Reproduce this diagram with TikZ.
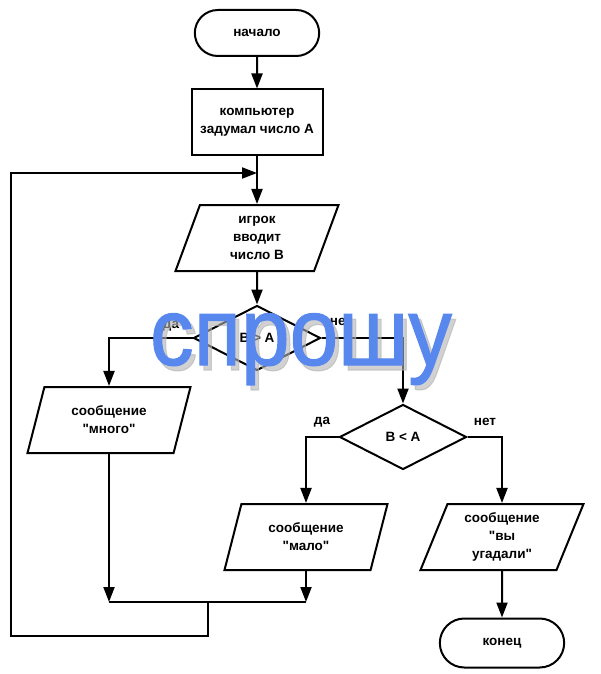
\documentclass[tikz,border=0pt]{standalone}
\usepackage{fontspec}
\setmainfont{Liberation Sans}[Ligatures=TeXOff]
\newfontfamily\stampfont{Liberation Sans}[FakeBold=1.2]
\usetikzlibrary{shapes.geometric,shapes.misc,arrows.meta}
\definecolor{stamp}{RGB}{88,136,238}
\begin{document}
\begin{tikzpicture}[x=1pt, y=-1pt,
        every node/.style={font=\fontsize{13.5}{18}\selectfont\bfseries, align=center},
        terminal/.style={draw=black, line width=2pt, rounded rectangle, minimum width=131pt, minimum height=46pt},
        process/.style={draw=black, line width=2pt, rectangle, minimum width=131pt, minimum height=65pt},
        io/.style={draw=black, line width=2pt, trapezium, trapezium left angle=64, trapezium right angle=116, trapezium stretches body, minimum width=163pt, minimum height=66pt},
        test/.style={draw=black, line width=2pt, diamond, aspect=2, inner sep=0pt, minimum width=127pt, minimum height=65pt},
        flow/.style={black, line width=2pt, -{Triangle[length=15pt, width=11pt]}},
        link/.style={black, line width=2pt},
        watermark/.style={anchor=base, font=\fontsize{96}{96}\selectfont\stampfont}]
        \useasboundingbox (0,0) rectangle (600,674);

        \node (0) at (257, 33)[terminal] {начало};
        \node (1) at (257, 122)[process] {компьютер\\задумал число A};
        \coordinate (j) at (257, 173);
        \node (2) at (257, 238)[io] {игрок\\вводит\\число B};
        \node (3) at (257, 338)[test] {B > A};

        \node (4) at (109, 420)[io] {сообщение\\"много"};
        \node (5) at (403, 437)[test] {B < A};
        \node (6) at (306, 537)[io] {сообщение\\"мало"};
        \node (7) at (502, 537)[io] {сообщение\\"вы\\угадали"};
        \node (8) at (502, 643)[terminal, minimum height=49pt] {конец};

        \node (y1) at (171, 326) {да};
        \node (n1) at (341, 322) {нет};
        \node (y2) at (322, 422) {да};
        \node (n2) at (485, 422) {нет};

        \coordinate (m) at (208, 602);
        \coordinate (b) at (11, 636);

        \draw[flow] (0) -- (1);
        \draw[link] (1) -- (j);
        \draw[flow] (j) -- (2);
        \draw[flow] (2) -- (3);
        \draw[flow] (3.west) -| (4.north);
        \draw[flow] (3.east) -| (5.north);
        \draw[flow] (5.west) -| (6.north);
        \draw[flow] (5.east) -| (7.north);
        \draw[flow] (7) -- (8);
        \draw[flow] (4.south) -- (4.south |- m);
        \draw[flow] (6.south) -- (6.south |- m);
        \draw[link] (4.south |- m) -- (6.south |- m);
        \draw[flow] (m) |- (b) |- (j);

        \node (w0) at (305, 370)[watermark, text=black!30, opacity=0.6] {\scalebox{0.91}[1]{спрошу}};
        \node (w) at (301, 365)[watermark, text=stamp] {\scalebox{0.91}[1]{спрошу}};
    \end{tikzpicture}
\end{document}
